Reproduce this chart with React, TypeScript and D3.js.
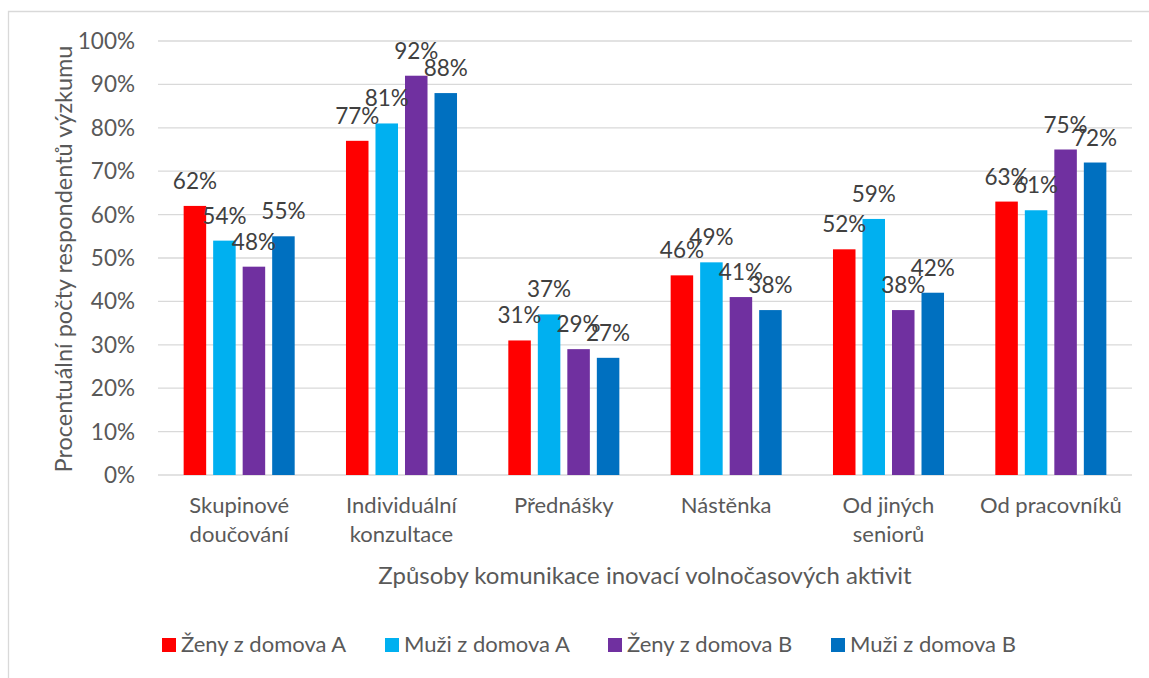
import React, { useEffect, useRef } from 'react';
import * as d3 from 'd3';

const categories = [
    ['Skupinové', 'doučování'],
    ['Individuální', 'konzultace'],
    ['Přednášky'],
    ['Nástěnka'],
    ['Od jiných', 'seniorů'],
    ['Od pracovníků'],
];
const seriesNames = ['Ženy z domova A', 'Muži z domova A', 'Ženy z domova B', 'Muži z domova B'];
const seriesColors = ['#FF0000', '#00B0F0', '#7030A0', '#0070C0'];

const zenyA = [62, 77, 31, 46, 52, 63];
const muziA = [54, 81, 37, 49, 59, 61];
const zenyB = [48, 92, 29, 41, 38, 75];
const muziB = [55, 88, 27, 38, 42, 72];
const seriesValues = [zenyA, muziA, zenyB, muziB];

const yTicks = [0, 10, 20, 30, 40, 50, 60, 70, 80, 90, 100];

const FONT = 'Lato, "Open Sans", sans-serif';

const App = () => {
    const ref = useRef<SVGSVGElement>(null);

    useEffect(() => {
        const svg = d3.select(ref.current);
        svg.selectAll('*').remove();

        const left = 158, right = 1132, top = 41, bottom = 475;

        // frame
        svg.append('path')
            .attr('d', `M8.5,${700} V11.5 H${1160}`)
            .attr('fill', 'none')
            .attr('stroke', '#D9D9D9')
            .attr('stroke-width', 1.3);

        const x0 = d3.scaleBand<number>()
            .domain(d3.range(categories.length))
            .range([left, right]);
        const bw = x0.bandwidth();
        const x1 = d3.scaleBand<number>()
            .domain(d3.range(seriesNames.length))
            .range([bw * 0.158, bw * 0.842])
            .paddingInner(0.237);
        const y = d3.scaleLinear().domain([0, 100]).range([bottom, top]);

        // gridlines
        svg.append('g').selectAll('line')
            .data(yTicks)
            .enter()
            .append('line')
            .attr('x1', left).attr('x2', right)
            .attr('y1', d => y(d)).attr('y2', d => y(d))
            .attr('stroke', '#D9D9D9')
            .attr('stroke-width', 1.3);

        // y tick labels
        svg.append('g').selectAll('text')
            .data(yTicks)
            .enter()
            .append('text')
            .attr('x', 135)
            .attr('y', d => y(d) + 8)
            .attr('text-anchor', 'end')
            .attr('font-family', FONT)
            .attr('font-size', 22.5)
            .attr('fill', '#595959')
            .text(d => `${d}%`);

        // bars
        const groups = svg.append('g').selectAll('g')
            .data(categories.map((_, i) => i))
            .enter()
            .append('g')
            .attr('transform', i => `translate(${x0(i)},0)`);

        groups.selectAll('rect')
            .data(i => seriesValues.map((s, k) => ({ k, v: s[i] })))
            .enter()
            .append('rect')
            .attr('x', d => x1(d.k)!)
            .attr('width', x1.bandwidth())
            .attr('y', d => y(d.v))
            .attr('height', d => y(0) - y(d.v))
            .attr('fill', d => seriesColors[d.k]);

        groups.selectAll('text.lbl')
            .data(i => seriesValues.map((s, k) => ({ k, v: s[i] })))
            .enter()
            .append('text')
            .attr('class', 'lbl')
            .attr('x', d => x1(d.k)! + x1.bandwidth() / 2)
            .attr('y', d => y(d.v) - 17)
            .attr('text-anchor', 'middle')
            .attr('font-family', FONT)
            .attr('font-size', 22.5)
            .attr('fill', '#404040')
            .text(d => `${d.v}%`);

        // category labels
        groups.each(function (i) {
            const t = d3.select(this).append('text')
                .attr('text-anchor', 'middle')
                .attr('font-family', FONT)
                .attr('font-size', 22)
                .attr('fill', '#595959');
            categories[i].forEach((line, j) => {
                t.append('tspan')
                    .attr('x', bw / 2)
                    .attr('y', 513 + j * 29)
                    .text(line);
            });
        });

        // axis titles
        svg.append('text')
            .attr('x', 645)
            .attr('y', 584)
            .attr('text-anchor', 'middle')
            .attr('font-family', FONT)
            .attr('font-size', 24)
            .attr('fill', '#595959')
            .text('Způsoby komunikace inovací volnočasových aktivit');

        svg.append('text')
            .attr('transform', `translate(72,${(top + bottom) / 2 + 1}) rotate(-90)`)
            .attr('text-anchor', 'middle')
            .attr('font-family', FONT)
            .attr('font-size', 23.5)
            .attr('fill', '#595959')
            .text('Procentuální počty respondentů výzkumu');

        // legend
        const legend = svg.append('g').selectAll('g')
            .data(seriesNames)
            .enter()
            .append('g')
            .attr('transform', (_, k) => `translate(${162 + k * 223},638)`);
        legend.append('rect')
            .attr('width', 14).attr('height', 14)
            .attr('fill', (_, k) => seriesColors[k]);
        legend.append('text')
            .attr('x', 19)
            .attr('y', 14)
            .attr('font-family', FONT)
            .attr('font-size', 22)
            .attr('fill', '#595959')
            .text(d => d);
    }, []);

    return <svg ref={ref} width={1149} height={678}
        style={{ position: 'absolute', left: 0, top: 0, background: '#ffffff' }} />;
};

export default App;
